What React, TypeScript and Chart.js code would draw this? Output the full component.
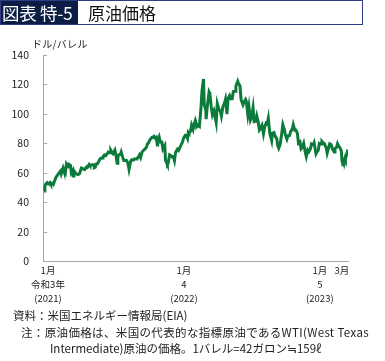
import React, { useEffect, useRef } from "react";
import { Chart, registerables } from "chart.js";

Chart.register(...registerables);

const dates: string[] = [
  "2021-01-04","2021-01-06","2021-01-08","2021-01-12","2021-01-15","2021-01-20","2021-01-22","2021-01-27","2021-01-29",
  "2021-02-03","2021-02-05","2021-02-09","2021-02-12","2021-02-17","2021-02-19","2021-02-24","2021-02-26",
  "2021-03-02","2021-03-05","2021-03-08","2021-03-10","2021-03-12","2021-03-16","2021-03-18","2021-03-22","2021-03-23","2021-03-25","2021-03-26","2021-03-31",
  "2021-04-05","2021-04-09","2021-04-14","2021-04-16","2021-04-20","2021-04-23","2021-04-28","2021-04-30",
  "2021-05-05","2021-05-07","2021-05-11","2021-05-14","2021-05-18","2021-05-19","2021-05-21","2021-05-25","2021-05-28",
  "2021-06-02","2021-06-04","2021-06-09","2021-06-11","2021-06-15","2021-06-18","2021-06-23","2021-06-25","2021-06-30",
  "2021-07-02","2021-07-06","2021-07-08","2021-07-13","2021-07-16","2021-07-19","2021-07-21","2021-07-23","2021-07-28","2021-07-30",
  "2021-08-03","2021-08-06","2021-08-10","2021-08-13","2021-08-17","2021-08-20","2021-08-24","2021-08-27",
  "2021-09-01","2021-09-03","2021-09-08","2021-09-10","2021-09-14","2021-09-17","2021-09-20","2021-09-24","2021-09-28",
  "2021-10-01","2021-10-06","2021-10-08","2021-10-12","2021-10-15","2021-10-20","2021-10-22","2021-10-26","2021-10-29",
  "2021-11-01","2021-11-04","2021-11-05","2021-11-09","2021-11-12","2021-11-16","2021-11-19","2021-11-24","2021-11-26","2021-11-30",
  "2021-12-01","2021-12-03","2021-12-07","2021-12-10","2021-12-14","2021-12-17","2021-12-20","2021-12-23","2021-12-28","2021-12-31",
  "2022-01-05","2022-01-07","2022-01-11","2022-01-14","2022-01-18","2022-01-21","2022-01-24","2022-01-26","2022-01-28",
  "2022-02-01","2022-02-04","2022-02-08","2022-02-11","2022-02-14","2022-02-16","2022-02-18","2022-02-23","2022-02-25",
  "2022-03-01","2022-03-04","2022-03-08","2022-03-10","2022-03-14","2022-03-15","2022-03-18","2022-03-23","2022-03-25","2022-03-29",
  "2022-04-01","2022-04-05","2022-04-08","2022-04-11","2022-04-14","2022-04-19","2022-04-22","2022-04-25","2022-04-29",
  "2022-05-04","2022-05-06","2022-05-10","2022-05-13","2022-05-17","2022-05-20","2022-05-24","2022-05-27",
  "2022-06-01","2022-06-03","2022-06-08","2022-06-10","2022-06-14","2022-06-17","2022-06-22","2022-06-24","2022-06-29",
  "2022-07-01","2022-07-05","2022-07-08","2022-07-12","2022-07-15","2022-07-19","2022-07-22","2022-07-26","2022-07-29",
  "2022-08-02","2022-08-05","2022-08-09","2022-08-12","2022-08-16","2022-08-19","2022-08-23","2022-08-26","2022-08-29",
  "2022-09-02","2022-09-07","2022-09-09","2022-09-13","2022-09-16","2022-09-21","2022-09-23","2022-09-26","2022-09-30",
  "2022-10-04","2022-10-07","2022-10-11","2022-10-14","2022-10-18","2022-10-21","2022-10-25","2022-10-28",
  "2022-11-02","2022-11-04","2022-11-08","2022-11-11","2022-11-15","2022-11-18","2022-11-22","2022-11-25","2022-11-28",
  "2022-12-02","2022-12-06","2022-12-09","2022-12-13","2022-12-16","2022-12-20","2022-12-23","2022-12-28","2022-12-30",
  "2023-01-04","2023-01-06","2023-01-10","2023-01-13","2023-01-18","2023-01-20","2023-01-24","2023-01-27",
  "2023-02-01","2023-02-03","2023-02-07","2023-02-10","2023-02-14","2023-02-17","2023-02-22","2023-02-24",
  "2023-03-01","2023-03-03","2023-03-07","2023-03-10","2023-03-13","2023-03-15","2023-03-17","2023-03-20","2023-03-23","2023-03-24","2023-03-28","2023-03-31",
];

const prices: number[] = [
  47.6,50.6,52.2,53.2,52.4,53.3,52.3,52.9,52.2,
  55.7,56.9,58.4,59.5,61.1,59.2,63.2,61.5,
  59.8,66.1,65.0,64.4,65.6,64.8,60.0,61.6,57.8,58.6,61.0,59.2,
  58.7,59.3,63.2,63.1,62.4,62.1,63.9,63.6,
  65.6,64.9,65.3,65.4,65.5,63.4,63.6,66.1,66.3,
  68.8,69.6,70.0,70.9,72.1,71.6,73.1,74.0,73.5,
  75.2,73.4,72.9,75.3,71.8,66.4,70.3,72.1,72.4,74.0,
  70.6,68.3,68.3,68.4,66.6,62.3,67.5,68.7,
  68.6,69.3,69.3,69.7,70.5,72.0,70.3,74.0,75.3,
  75.9,77.4,79.4,80.6,82.3,83.9,83.8,84.7,83.6,
  84.1,78.8,81.3,84.2,80.8,80.8,76.1,78.4,68.2,66.2,
  65.6,66.3,72.1,71.7,70.7,70.9,68.2,73.8,76.0,75.2,
  77.9,78.9,81.2,83.8,85.4,85.1,83.3,87.4,86.8,
  88.2,92.3,89.4,93.1,95.5,93.7,91.1,92.1,91.6,
  103.4,115.7,123.7,106.0,103.0,96.4,104.7,114.9,113.9,104.2,
  99.3,102.0,98.3,94.3,107.0,102.6,102.1,98.5,104.7,
  107.8,109.8,99.8,110.5,112.4,110.3,110.3,115.1,
  115.3,118.9,122.1,120.7,118.9,109.6,106.2,107.6,109.8,
  108.4,99.5,104.8,95.8,97.6,104.2,94.7,95.0,98.6,
  94.4,89.0,90.5,92.1,86.5,90.8,93.7,93.1,97.0,
  86.9,81.9,86.8,87.3,85.1,82.9,78.7,76.7,79.5,
  86.5,92.6,89.4,85.6,82.8,85.1,85.3,87.9,
  90.0,92.6,88.9,89.0,86.9,80.1,81.0,76.3,77.2,
  80.0,74.3,71.0,75.4,74.3,76.2,79.6,79.0,80.3,
  72.8,73.8,75.1,79.9,79.5,81.3,80.1,79.7,
  76.4,73.4,77.1,79.7,79.1,76.3,74.0,76.3,
  77.7,79.7,77.6,76.7,74.8,67.6,66.7,67.6,70.0,69.3,73.2,75.7,
];

const startDate = "2021-01-01";
const endDate = "2023-03-31";
const tickDates: string[] = ["2021-01-01", "2022-01-01", "2023-01-01", "2023-03-01"];
const tickLabels: string[][] = [
  ["1月", "令和3年", "(2021)"],
  ["1月", "4", "(2022)"],
  ["1月", "5", "(2023)"],
  ["3月"],
];
const yTicks: number[] = [0, 20, 40, 60, 80, 100, 120, 140];

const dayOf = (s: string) => {
  const [y, m, d] = s.split("-").map(Number);
  const [y0, m0, d0] = startDate.split("-").map(Number);
  return Math.round((Date.UTC(y, m - 1, d) - Date.UTC(y0, m0 - 1, d0)) / 86400000);
};

const FONT = '"Noto Sans CJK JP", "Noto Sans", sans-serif';

const innerTicks = {
  id: "innerTicks",
  afterDraw(chart: any) {
    const { ctx, chartArea, scales } = chart;
    const y = scales.y;
    ctx.save();
    ctx.strokeStyle = "#a6a6a6";
    ctx.lineWidth = 1;
    for (const v of yTicks) {
      const py = Math.round(y.getPixelForValue(v)) + 0.5;
      ctx.beginPath();
      ctx.moveTo(chartArea.left, py);
      ctx.lineTo(chartArea.left + 4, py);
      ctx.stroke();
    }
    ctx.restore();
  },
};

export default function App() {
  const ref = useRef<HTMLCanvasElement | null>(null);

  useEffect(() => {
    if (!ref.current) return;
    const points = dates.map((d, i) => ({ x: dayOf(d), y: prices[i] }));
    const tickDays = tickDates.map(dayOf);
    const chart = new Chart(ref.current, {
      type: "line",
      data: {
        datasets: [
          {
            data: points,
            borderColor: "#0b7a3a",
            borderWidth: 3,
            pointRadius: 0,
            tension: 0,
            fill: false,
          },
        ],
      },
      options: {
        responsive: false,
        animation: false,
        devicePixelRatio: 1,
        layout: { padding: { left: 0, top: 55, right: 37, bottom: 50 } },
        plugins: { legend: { display: false }, tooltip: { enabled: false } },
        scales: {
          x: {
            type: "linear",
            min: dayOf(startDate),
            max: dayOf(endDate),
            afterFit: (s: any) => {
              s.height = 50;
            },
            afterBuildTicks: (s: any) => {
              s.ticks = tickDays.map((v) => ({ value: v }));
            },
            grid: { display: true, drawOnChartArea: false, drawTicks: false },
            border: { color: "#a6a6a6", width: 1 },
            ticks: {
              autoSkip: false,
              maxRotation: 0,
              padding: 3,
              labelOffset: 5,
              color: "#222",
              font: { family: FONT, size: 9.5, lineHeight: 1.45 },
              callback: (v: any) => {
                const i = tickDays.indexOf(Number(v));
                return i >= 0 ? tickLabels[i] : "";
              },
            },
          },
          y: {
            min: 0,
            max: 140,
            afterFit: (s: any) => {
              s.width = 43;
            },
            afterBuildTicks: (s: any) => {
              s.ticks = yTicks.map((v) => ({ value: v }));
            },
            grid: { display: true, drawOnChartArea: false, drawTicks: false },
            border: { color: "#a6a6a6", width: 1 },
            ticks: {
              padding: 14,
              color: "#222",
              font: { family: FONT, size: 10.5 },
            },
          },
        },
      },
      plugins: [innerTicks],
    });
    return () => chart.destroy();
  }, []);

  return (
    <div
      style={{
        position: "fixed",
        left: 0,
        top: 0,
        width: 385,
        height: 361,
        background: "#fff",
        fontFamily: FONT,
        overflow: "hidden",
      }}
    >
      <canvas ref={ref} width={385} height={361} style={{ position: "absolute", left: 0, top: 0 }} />
      <div
        style={{
          position: "absolute",
          left: 0,
          top: 0,
          width: 363,
          height: 25,
          boxSizing: "border-box",
          border: "1.5px solid #2f3d84",
          display: "flex",
          alignItems: "center",
        }}
      >
        <div
          style={{
            background: "#0b1d45",
            color: "#fff",
            height: "100%",
            width: 77,
            display: "flex",
            alignItems: "center",
            fontSize: 17.5,
            whiteSpace: "nowrap",
            paddingLeft: 1,
            boxSizing: "border-box",
            letterSpacing: -0.3,
          }}
        >
          図表 特-5
        </div>
        <div style={{ marginLeft: 10, fontSize: 17, color: "#111", whiteSpace: "nowrap" }}>原油価格</div>
      </div>
      <div style={{ position: "absolute", left: 32, top: 36, fontSize: 10, color: "#222", whiteSpace: "nowrap", letterSpacing: 0.3 }}>
        ドル/バレル
      </div>
      <div style={{ position: "absolute", left: 13, top: 307, fontSize: 11.5, color: "#222", whiteSpace: "nowrap", lineHeight: "16px" }}>
        資料：米国エネルギー情報局(EIA)
      </div>
      <div style={{ position: "absolute", left: 21, top: 324, fontSize: 11.5, color: "#222", whiteSpace: "nowrap", lineHeight: "16px", letterSpacing: 0.35 }}>
        注：原油価格は、米国の代表的な指標原油であるWTI(West Texas
      </div>
      <div style={{ position: "absolute", left: 50, top: 340, fontSize: 11.5, color: "#222", whiteSpace: "nowrap", lineHeight: "16px" }}>
        Intermediate)原油の価格。1バレル=42ガロン≒159ℓ
      </div>
    </div>
  );
}
